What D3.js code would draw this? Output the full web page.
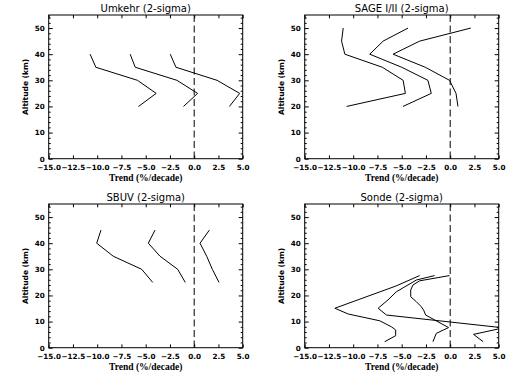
<!DOCTYPE html>
<html>
<head>
<meta charset="utf-8">
<script src="https://cdn.jsdelivr.net/npm/d3@7"></script>
<style>
  html, body { margin: 0; padding: 0; background: #fff; }
  svg { display: block; }
</style>
</head>
<body>
<svg id="chart" width="514" height="378"></svg>
<script>
// ---- data (trend in %/decade vs altitude in km) ----
const panelTitles = ["Umkehr (2-sigma)", "SAGE I/II (2-sigma)", "SBUV (2-sigma)", "Sonde (2-sigma)"];
const xTicks = [-15, -12.5, -10, -7.5, -5, -2.5, 0, 2.5, 5];
const yTicks = [0, 10, 20, 30, 40, 50];

const umkehrAlt = [40, 35, 30, 25, 20];
const umkehrLow = [-10.73, -10.14, -5.85, -3.92, -5.74];
const umkehrMid = [-6.60, -6.08, -1.78, 0.35, -1.10];
const umkehrHigh = [-2.47, -1.88, 2.36, 4.69, 3.63];

const sageAlt = [50, 45, 40, 35, 30, 25, 20];
const sageLow = [-11.03, -11.20, -10.86, -7.00, -4.85, -4.62, -10.68];
const sageMid = [-4.35, -6.92, -8.29, -5.00, -2.30, -1.95, -4.87];
const sageHigh = [2.12, -3.15, -5.89, -2.57, -0.07, 0.60, 0.80];

const sbuvAlt = [45, 40, 35, 30, 25];
const sbuvLow = [-9.61, -10.05, -8.34, -5.41, -4.28];
const sbuvMid = [-4.04, -4.73, -3.52, -1.70, -0.92];
const sbuvHigh = [1.56, 0.60, 1.29, 1.87, 2.56];

const sondeLowAlt = [27.6, 23.6, 15.1, 12.9, 10.3, 8.0, 6.8, 4.6, 2.3];
const sondeLow = [-3.15, -5.60, -11.89, -10.52, -7.26, -6.06, -5.62, -5.62, -6.75];
const sondeMidAlt = [27.6, 25.9, 21.4, 18.3, 15.1, 12.5, 7.6, 5.1, 2.3];
const sondeMid = [-1.61, -3.49, -5.55, -6.41, -7.43, -6.57, 5.50, 2.40, 3.40];
const sondeHighAlt = [27.6, 25.6, 24.0, 22.1, 19.5, 17.6, 15.7, 14.4, 12.5, 7.7, 5.5, 2.3];
const sondeHigh = [-0.07, -3.15, -3.84, -4.07, -4.07, -3.49, -2.98, -2.74, -2.53, -0.17, -1.43, -1.78];

const panelSeries = [
  [[umkehrLow, umkehrAlt], [umkehrMid, umkehrAlt], [umkehrHigh, umkehrAlt]],
  [[sageLow, sageAlt], [sageMid, sageAlt], [sageHigh, sageAlt]],
  [[sbuvLow, sbuvAlt], [sbuvMid, sbuvAlt], [sbuvHigh, sbuvAlt]],
  [[sondeLow, sondeLowAlt], [sondeMid, sondeMidAlt], [sondeHigh, sondeHighAlt]]
];

// ---- layout ----
const svg = d3.select("#chart");
const lefts = [48.7, 304.7];
const tops = [15, 204];
const W = 194, H = 143.7;
const fmt = d3.format(".1f");

panelTitles.forEach((title, i) => {
  const col = i % 2, row = Math.floor(i / 2);
  const x0 = lefts[col], y0 = tops[row];
  const g = svg.append("g").attr("transform", `translate(${x0},${y0})`);
  const x = d3.scaleLinear().domain([-15, 5]).range([0, W]);
  const y = d3.scaleLinear().domain([0, 55]).range([H, 0]);

  const clipId = "clip" + i;
  g.append("clipPath").attr("id", clipId)
    .append("rect").attr("x", 0).attr("y", 0).attr("width", W).attr("height", H);

  // axes: bottom with labels, others mirrored inward ticks
  const axB = g.append("g").attr("transform", `translate(0,${H})`)
    .call(d3.axisBottom(x).tickValues(xTicks).tickSize(-3.3).tickPadding(6).tickFormat(d => fmt(d).replace("-", "\u2212")));
  const axT = g.append("g")
    .call(d3.axisTop(x).tickValues(xTicks).tickSize(-3.3).tickFormat(""));
  const minor = d3.range(0, 55.1, 2).filter(v => v % 10 !== 0);
  g.append("g").call(d3.axisLeft(y).tickValues(minor).tickSize(-2).tickFormat(""));
  g.append("g").attr("transform", `translate(${W},0)`)
    .call(d3.axisRight(y).tickValues(minor).tickSize(-2).tickFormat(""));
  const axL = g.append("g")
    .call(d3.axisLeft(y).tickValues(yTicks).tickSize(-4).tickPadding(4).tickFormat(d3.format("d")));
  g.append("g").attr("transform", `translate(${W},0)`)
    .call(d3.axisRight(y).tickValues(yTicks).tickSize(-4).tickFormat(""));

  g.selectAll(".domain").remove();
  g.selectAll(".tick line").attr("stroke", "#000").attr("stroke-width", 1);
  g.selectAll(".tick text")
    .attr("fill", "#000")
    .style("font-family", "'DejaVu Sans', sans-serif")
    .style("font-weight", "bold")
    .style("font-size", "7.2px");

  // frame
  g.append("rect").attr("x", 0).attr("y", 0).attr("width", W).attr("height", H)
    .attr("fill", "none").attr("stroke", "#000").attr("stroke-width", 1);

  // zero dashed line
  g.append("line")
    .attr("x1", x(0)).attr("x2", x(0)).attr("y1", y(55)).attr("y2", y(0))
    .attr("stroke", "#000").attr("stroke-width", 1).attr("stroke-dasharray", "7,3.5");

  // profiles
  const line = d3.line().x(d => x(d[0])).y(d => y(d[1]));
  const lg = g.append("g").attr("clip-path", `url(#${clipId})`);
  panelSeries[i].forEach(([vals, alts]) => {
    lg.append("path")
      .datum(vals.map((v, k) => [v, alts[k]]))
      .attr("d", line)
      .attr("fill", "none").attr("stroke", "#000").attr("stroke-width", 1);
  });

  // titles
  g.append("text").attr("x", W / 2).attr("y", -3.5)
    .attr("text-anchor", "middle")
    .style("font-family", "'DejaVu Sans', sans-serif")
    .style("font-size", "10px")
    .text(title);
  g.append("text").attr("x", W / 2).attr("y", H + 22.5)
    .attr("text-anchor", "middle")
    .style("font-family", "'Liberation Serif', serif")
    .style("font-weight", "bold")
    .style("font-size", "9.5px")
    .text("Trend (%/decade)");
  g.append("text")
    .attr("transform", `translate(-21,${H / 2}) rotate(-90)`)
    .attr("text-anchor", "middle")
    .style("font-family", "'DejaVu Sans', sans-serif")
    .style("font-weight", "bold")
    .style("font-size", "7.5px")
    .text("Altitude (km)");
});
</script>
</body>
</html>
